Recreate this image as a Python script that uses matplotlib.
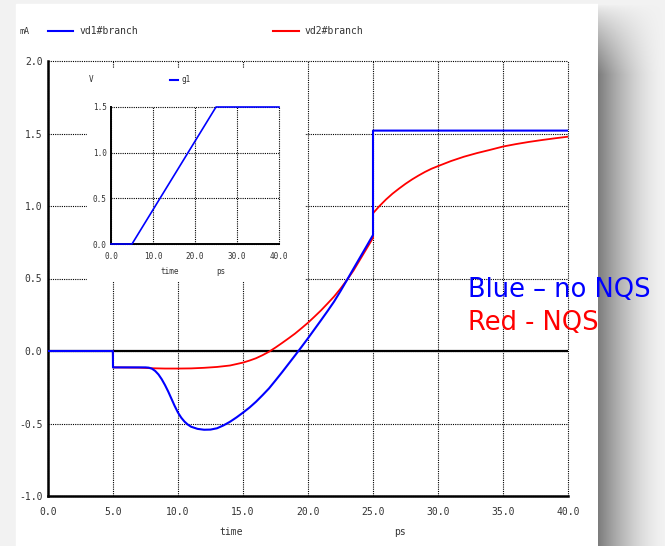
import matplotlib
matplotlib.use("Agg")
import matplotlib.pyplot as plt
import numpy as np
from matplotlib.lines import Line2D

# vd1#branch (no NQS), mA vs ps
t_blue = [0.0, 4.99, 5.0, 7.5, 7.75, 8.0, 8.25, 8.5, 8.75, 9.0, 9.25, 9.5, 9.75, 10.0,
          10.25, 10.5, 10.75, 11.0, 11.5, 12.0, 12.5, 13.0, 13.5, 14.0, 14.5, 15.0, 15.5,
          16.0, 16.5, 17.0, 17.5, 18.0, 18.5, 19.0, 19.5, 20.0, 20.5, 21.0, 21.5, 22.0,
          22.5, 23.0, 23.5, 24.0, 24.5, 25.0, 25.0, 40.0]
i_blue = [0.0, 0.0, -0.113, -0.113, -0.115, -0.122, -0.138, -0.162, -0.195, -0.235,
          -0.28, -0.33, -0.38, -0.425, -0.46, -0.487, -0.507, -0.522, -0.537, -0.543,
          -0.542, -0.533, -0.513, -0.488, -0.458, -0.425, -0.39, -0.35, -0.305, -0.258,
          -0.203, -0.147, -0.089, -0.031, 0.028, 0.088, 0.15, 0.212, 0.275, 0.34, 0.413,
          0.49, 0.568, 0.645, 0.722, 0.80, 1.52, 1.52]

# vd2#branch (NQS)
t_red = [0.0, 4.99, 5.0, 7.0, 8.0, 9.0, 10.0, 11.0, 12.0, 13.0, 14.0, 15.0, 15.5, 16.0,
         16.5, 17.0, 17.5, 18.0, 18.5, 19.0, 19.5, 20.0, 20.5, 21.0, 21.5, 22.0, 22.5,
         23.0, 23.5, 24.0, 24.5, 25.0, 25.0, 25.5, 26.0, 26.5, 27.0, 27.5, 28.0, 28.5,
         29.0, 29.5, 30.0, 31.0, 32.0, 33.0, 34.0, 35.0, 36.0, 37.0, 38.0, 39.0, 40.0]
i_red = [0.0, 0.0, -0.113, -0.115, -0.119, -0.121, -0.121, -0.12, -0.116, -0.11, -0.10,
         -0.08, -0.066, -0.05, -0.029, -0.005, 0.024, 0.055, 0.087, 0.12, 0.157, 0.195,
         0.237, 0.28, 0.327, 0.375, 0.43, 0.49, 0.555, 0.63, 0.705, 0.78, 0.95, 1.0,
         1.045, 1.085, 1.12, 1.153, 1.183, 1.21, 1.235, 1.257, 1.275, 1.31, 1.34, 1.365,
         1.387, 1.41, 1.427, 1.442, 1.455, 1.467, 1.478]

# g1 gate voltage (inset)
t_g1 = [0.0, 5.0, 25.0, 40.0]
v_g1 = [0.0, 0.0, 1.5, 1.5]

xticks_main = [0, 5, 10, 15, 20, 25, 30, 35, 40]
yticks_main = [-1.0, -0.5, 0.0, 0.5, 1.0, 1.5, 2.0]
xticks_inset = [0, 10, 20, 30, 40]
yticks_inset = [0.0, 0.5, 1.0, 1.5]

W, H = 665, 546
MONO = "DejaVu Sans Mono"
TXT = "#333333"
DOT = (0, (1, 1))

fig = plt.figure(figsize=(W / 100, H / 100), dpi=100)
fig.patch.set_facecolor("#f2f2f2")

def fx(px):
    return px / W

def fy(py):
    return 1 - py / H

# white panel
fig.add_artist(plt.Rectangle((fx(16), 0), fx(598 - 16), fy(4), transform=fig.transFigure,
                             color="white", zorder=0))

# drop shadow on the right of the panel
sw = W - 598
u = np.arange(sw) / sw
depth = 0.46 * (1 - u) ** 1.6
rows = np.arange(H)
vert = np.clip((rows - 4) / 70.0, 0, 1) ** 0.8
shade = 0.95 - depth[None, :] * vert[:, None]
fig.figimage(np.dstack([shade] * 3), xo=598, yo=0, origin="upper", zorder=0)


def style_axes(ax, xt, yt, fs, pad_x, pad_y, lw_spine):
    ax.set_facecolor("none")
    ax.set_xticks(xt)
    ax.set_yticks(yt)
    ax.set_xticklabels(["%.1f" % v for v in xt], fontfamily=MONO, fontsize=fs, color=TXT)
    ax.set_yticklabels(["%.1f" % v for v in yt], fontfamily=MONO, fontsize=fs, color=TXT)
    ax.tick_params(axis="x", length=0, pad=pad_x)
    ax.tick_params(axis="y", length=0, pad=pad_y)
    for s in ["top", "right"]:
        ax.spines[s].set_visible(False)
    for s in ["left", "bottom"]:
        ax.spines[s].set_linewidth(lw_spine)
        ax.spines[s].set_color("black")
    for v in xt:
        ax.axvline(v, color="black", lw=0.8, ls=DOT, clip_on=False, zorder=1)
    for v in yt:
        ax.axhline(v, color="black", lw=0.8, ls=DOT, clip_on=False, zorder=1)


# main plot
ax = fig.add_axes([fx(48), fy(496), fx(568 - 48), fy(61) - fy(496)])
ax.set_xlim(0, 40)
ax.set_ylim(-1.0, 2.0)
style_axes(ax, xticks_main, yticks_main, 7, 8, 4, 1.8)
ax.axhline(0, color="black", lw=1.6, zorder=2)
ax.plot(t_red, i_red, color="#ff0000", lw=1.3, zorder=3)
ax.plot(t_blue, i_blue, color="#0000ff", lw=1.5, zorder=4)

fig.text(fx(20), fy(31), "mA", fontfamily=MONO, fontsize=6, color=TXT, va="center")
fig.add_artist(Line2D([fx(48), fx(73)], [fy(31), fy(31)], color="#0000ff", lw=1.5))
fig.text(fx(80), fy(31), "vd1#branch", fontfamily=MONO, fontsize=7, color=TXT, va="center")
fig.add_artist(Line2D([fx(273), fx(299)], [fy(31), fy(31)], color="#ff0000", lw=1.5))
fig.text(fx(305), fy(31), "vd2#branch", fontfamily=MONO, fontsize=7, color=TXT, va="center")
fig.text(fx(231), fy(532), "time", fontfamily=MONO, fontsize=7, color=TXT, ha="center", va="center")
fig.text(fx(400), fy(532), "ps", fontfamily=MONO, fontsize=7, color=TXT, ha="center", va="center")

# white box behind inset
box = fig.add_axes([fx(87), fy(282), fx(305 - 87), fy(68) - fy(282)])
box.set_facecolor("white")
box.set_xticks([])
box.set_yticks([])
for s in box.spines.values():
    s.set_visible(False)

# inset
ins = fig.add_axes([fx(111), fy(244), fx(279 - 111), fy(107) - fy(244)])
ins.set_xlim(0, 40)
ins.set_ylim(0, 1.5)
style_axes(ins, xticks_inset, yticks_inset, 5.5, 6, 3, 1.4)
ins.plot(t_g1, v_g1, color="#0000ff", lw=1.2, zorder=3, clip_on=False)

fig.text(fx(91), fy(80), "V", fontfamily=MONO, fontsize=5.5, color=TXT, ha="center", va="center")
fig.add_artist(Line2D([fx(170), fx(178)], [fy(80), fy(80)], color="#0000ff", lw=1.5))
fig.text(fx(182), fy(80), "g1", fontfamily=MONO, fontsize=5.5, color=TXT, va="center")
fig.text(fx(170), fy(271), "time", fontfamily=MONO, fontsize=5.5, color=TXT, ha="center", va="center")
fig.text(fx(221), fy(271), "ps", fontfamily=MONO, fontsize=5.5, color=TXT, ha="center", va="center")

# annotation
fig.text(fx(468), fy(297), "Blue \u2013 no NQS", fontfamily="DejaVu Sans", fontsize=18.5,
         color="#0000ff", va="baseline")
fig.text(fx(468), fy(330), "Red - NQS", fontfamily="DejaVu Sans", fontsize=18.5,
         color="#ff0000", va="baseline")

fig.savefig("out.png", dpi=100)
